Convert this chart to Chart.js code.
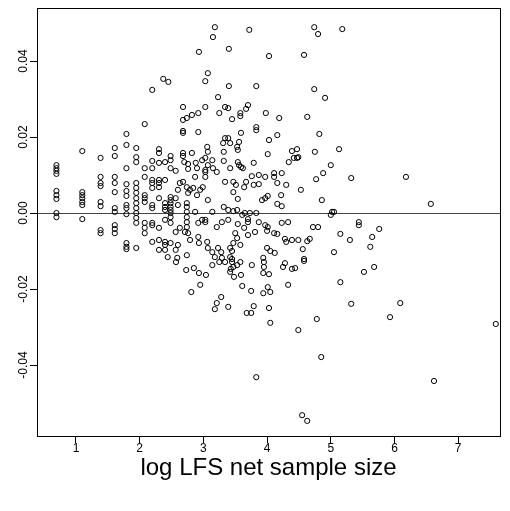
<!DOCTYPE html>
<html>
<head>
<meta charset="utf-8">
<script src="https://cdn.jsdelivr.net/npm/chart.js@4.4.1/dist/chart.umd.min.js"></script>
<style>
  html, body { margin: 0; padding: 0; background: #fff; }
  #wrap { width: 510px; height: 511px; }
</style>
</head>
<body>
<div id="wrap"><canvas id="resid" width="510" height="511"></canvas></div>
<script>
// log of LFS net sample size, one value per area
const logSize = [
  0.693, 0.693, 0.693, 0.693, 0.693, 0.693, 0.693, 0.693, 0.693,
  1.099, 1.099, 1.099, 1.099, 1.099, 1.099, 1.099,
  1.386, 1.386, 1.386, 1.386, 1.386, 1.386, 1.386, 1.386,
  1.609, 1.609, 1.609, 1.609, 1.609, 1.609, 1.609, 1.609, 1.609, 1.609,
  1.792, 1.792, 1.792, 1.792, 1.792, 1.792, 1.792, 1.792, 1.792, 1.792, 1.792, 1.792,
  1.946, 1.946, 1.946, 1.946, 1.946, 1.946, 1.946, 1.946, 1.946, 1.946, 1.946, 1.946, 1.946,
  2.079, 2.079, 2.079, 2.079, 2.079, 2.079, 2.079, 2.079, 2.079,
  2.197, 2.197, 2.197, 2.197, 2.197, 2.197, 2.197, 2.197, 2.197, 2.197, 2.197,
  2.303, 2.303, 2.303, 2.303, 2.303, 2.303, 2.303, 2.303, 2.303, 2.303,
  2.398, 2.398, 2.398, 2.398, 2.398, 2.398, 2.398, 2.398, 2.398,
  2.485, 2.485, 2.485, 2.485, 2.485, 2.485, 2.485, 2.485, 2.485, 2.485, 2.485, 2.485,
  2.565, 2.565, 2.565, 2.565,
  2.37, 2.45, 2.44, 2.57, 2.73, 2.85, 2.93, 2.95, 3.04, 3.14,
  2.60, 2.60, 2.60, 2.59, 2.63, 2.63, 2.68, 2.68, 2.68, 2.68,
  2.68, 2.68, 2.70, 2.68, 2.71, 2.74, 2.74, 2.74, 2.74, 2.74,
  2.74, 2.74, 2.74, 2.74, 2.76, 2.76, 2.76, 2.76, 2.79, 2.79,
  2.82, 2.82, 2.81, 2.84, 2.87, 2.87, 2.88, 2.90, 2.90, 2.92,
  2.92, 2.92, 2.92, 2.93, 2.93, 2.95, 2.98, 2.98, 2.99, 3.03,
  3.03, 3.03, 3.03, 3.03, 3.03, 3.03, 3.03, 3.06, 3.06, 3.07,
  3.07, 3.07, 3.07, 3.07, 3.14, 3.14, 3.14, 3.15, 3.15, 3.18,
  3.18, 3.18, 3.21, 3.21, 3.21, 3.23, 3.23, 3.25, 3.25, 3.28,
  3.28, 3.29, 3.29, 3.31, 3.32, 3.32, 3.32, 3.34, 3.34, 3.34,
  3.34, 3.39, 3.39, 3.39, 3.39, 3.39, 3.40, 3.40, 3.42, 3.42,
  3.42, 3.42, 3.42, 3.43, 3.45, 3.45, 3.45, 3.45, 3.47, 3.47,
  3.47, 3.47, 3.47, 3.48, 3.50, 3.51, 3.53, 3.53, 3.53, 3.53,
  3.54, 3.54, 3.54, 3.54, 3.56, 3.56, 3.58, 3.58, 3.58, 3.58,
  3.59, 3.59, 3.59, 3.61, 3.61, 3.62, 3.64, 3.64, 3.65, 3.67,
  3.67, 3.68, 3.70, 3.70, 3.70, 3.70, 3.72, 3.73, 3.75, 3.75,
  3.76, 3.76, 3.79, 3.79, 3.79, 3.81, 3.83, 3.83, 3.83, 3.83,
  3.83, 3.87, 3.87, 3.87, 3.92, 3.94, 3.94, 3.94, 3.95, 3.95,
  3.97, 3.97, 3.97, 3.98, 4.00, 4.00, 4.01, 4.01, 4.01, 4.01,
  4.03, 4.03, 4.03, 4.03, 4.05, 4.05, 4.05, 4.11, 4.11, 4.11,
  4.12, 4.16, 4.16, 4.16, 4.16, 4.19, 4.22, 4.23, 4.23, 4.23,
  4.25, 4.28, 4.28, 4.33, 4.30, 4.30, 4.33, 4.34, 4.39, 4.39,
  4.39, 4.42, 4.44, 4.47, 4.47, 4.49, 4.49, 4.49, 4.53, 4.55,
  4.56, 4.58, 4.58, 4.58, 4.63, 4.63, 4.63, 4.67, 4.72, 4.74,
  4.74, 4.75, 4.77, 4.78, 4.80, 4.80, 4.82, 4.85, 4.86, 4.88,
  4.91, 5.00, 5.00, 5.02, 5.05, 5.05, 5.13, 5.15, 5.15, 5.18,
  5.30, 5.32, 5.32, 5.44, 5.44, 5.52, 5.62, 5.65, 5.68, 5.76,
  5.93, 6.09, 6.18, 6.57, 6.62, 7.59
];

// residuals, same order as logSize
const residual = [
  0.0126, 0.0118, 0.0111, 0.0103, 0.0058, 0.0047, 0.0037, 0.0000, -0.0011,
  0.0163, 0.0055, 0.0047, 0.0039, 0.0029, 0.0021, -0.0016,
  0.0145, 0.0095, 0.0079, 0.0071, 0.0029, 0.0018, -0.0045, -0.0053,
  0.0171, 0.0150, 0.0095, 0.0079, 0.0055, 0.0013, 0.0003, -0.0032, -0.0042, -0.0053,
  0.0208, 0.0179, 0.0118, 0.0076, 0.0058, 0.0045, 0.0021, 0.0013, -0.0003, -0.0079, -0.0089, -0.0095,
  0.0171, 0.0147, 0.0134, 0.0079, 0.0066, 0.0053, 0.0039, 0.0026, 0.0013, 0.0000, -0.0013, -0.0026, -0.0092,
  0.0234, 0.0118, 0.0095, 0.0047, 0.0039, 0.0029, -0.0026, -0.0039, -0.0053,
  0.0324, 0.0137, 0.0118, 0.0087, 0.0079, 0.0066, 0.0021, 0.0013, -0.0026, -0.0032, -0.0076,
  0.0168, 0.0158, 0.0132, 0.0087, 0.0079, 0.0068, 0.0039, -0.0039, -0.0071, -0.0097,
  0.0134, 0.0087, 0.0026, 0.0016, 0.0008, -0.0018, -0.0076, -0.0084, -0.0097,
  0.0150, 0.0139, 0.0118, 0.0042, 0.0034, 0.0026, 0.0016, 0.0008, 0.0000, -0.0011, -0.0026, -0.0079,
  0.0111, 0.0039, -0.0050, -0.0097,
  0.0353, 0.0345, -0.0116, -0.0129, -0.0150, -0.0145, -0.0158, -0.0189, -0.0163, -0.0137,
  0.0061, 0.0021, -0.0084, -0.0118, 0.0079, -0.0039, 0.0279, 0.0245, 0.0216, 0.0211,
  0.0158, 0.0150, 0.0134, 0.0082, -0.0050, 0.0250, 0.0068, 0.0026, 0.0016, 0.0003,
  -0.0011, -0.0024, -0.0037, -0.0111, 0.0129, 0.0116, 0.0053, -0.0053, 0.0061, -0.0071,
  0.0258, 0.0158, -0.0208, 0.0066, 0.0003, 0.0095, 0.0132, 0.0118, 0.0047, 0.0263,
  0.0213, -0.0063, -0.0026, 0.0424, -0.0079, 0.0061, 0.0139, -0.0018, 0.0068, 0.0279,
  0.0145, 0.0113, 0.0108, 0.0095, 0.0347, -0.0018, -0.0024, 0.0174, -0.0076, 0.0368,
  0.0161, 0.0126, 0.0034, -0.0092, 0.0139, 0.0003, -0.0103, 0.0463, 0.0118, 0.0489,
  -0.0116, -0.0253, 0.0108, -0.0037, -0.0237, 0.0305, -0.0092, 0.0263, -0.0129, -0.0103,
  -0.0221, -0.0024, -0.0118, 0.0184, 0.0161, 0.0137, 0.0016, 0.0279, 0.0197, 0.0082,
  -0.0129, 0.0276, 0.0197, 0.0008, -0.0018, -0.0247, 0.0432, 0.0334, 0.0184, 0.0118,
  -0.0092, -0.0116, -0.0155, -0.0147, 0.0247, -0.0100, -0.0121, -0.0129, 0.0082, 0.0055,
  0.0005, -0.0079, -0.0142, -0.0168, -0.0053, 0.0074, 0.0174, 0.0008, -0.0066, -0.0137,
  0.0166, 0.0134, 0.0037, -0.0029, 0.0187, 0.0126, 0.0263, 0.0255, -0.0084, -0.0129,
  0.0211, 0.0121, -0.0163, -0.0005, -0.0192, 0.0118, 0.0068, -0.0039, 0.0000, 0.0274,
  0.0082, -0.0263, 0.0284, -0.0016, -0.0024, -0.0058, 0.0482, 0.0000, -0.0205, -0.0263,
  0.0097, -0.0137, 0.0132, 0.0074, -0.0245, -0.0050, 0.0226, 0.0218, 0.0334, 0.0000,
  -0.0432, 0.0100, 0.0076, -0.0024, 0.0034, -0.0118, -0.0158, -0.0211, -0.0129, -0.0142,
  0.0095, 0.0039, -0.0032, 0.0263, -0.0047, -0.0092, 0.0155, 0.0045, -0.0037, -0.0195,
  0.0413, 0.0192, -0.0161, -0.0250, -0.0100, -0.0208, -0.0289, 0.0105, 0.0095, -0.0053,
  -0.0105, 0.0205, 0.0079, 0.0024, -0.0055, 0.0250, 0.0047, 0.0105, 0.0018, -0.0026,
  -0.0142, -0.0068, -0.0132, -0.0189, 0.0074, -0.0076, -0.0024, 0.0134, 0.0163, -0.0071,
  -0.0147, 0.0145, -0.0145, 0.0168, 0.0145, 0.0147, -0.0071, -0.0308, 0.0061, -0.0532,
  -0.0095, 0.0416, -0.0121, -0.0126, 0.0253, -0.0074, -0.0547, -0.0068, -0.0037, 0.0489,
  0.0326, 0.0161, 0.0089, -0.0279, 0.0471, -0.0037, 0.0208, -0.0379, 0.0034, 0.0105,
  0.0303, 0.0126, -0.0005, 0.0003, 0.0003, -0.0103, 0.0168, -0.0055, -0.0182, 0.0484,
  -0.0071, 0.0092, -0.0239, -0.0024, -0.0032, -0.0155, -0.0089, -0.0063, -0.0142, -0.0042,
  -0.0274, -0.0237, 0.0095, 0.0024, -0.0442, -0.0292
];

const xTicks = [1, 2, 3, 4, 5, 6, 7];
const yTicks = [-0.04, -0.02, 0, 0.02, 0.04];

const points = logSize.map((x, i) => ({x: x, y: residual[i]}));

// box around the plot region, like R's box()
const boxPlugin = {
  id: 'box',
  afterDraw(chart) {
    const a = chart.chartArea
    const ctx = chart.ctx
    ctx.save()
    ctx.strokeStyle = '#000'
    ctx.lineWidth = 1
    ctx.strokeRect(Math.round(a.left) + 0.5, Math.round(a.top) + 0.5, Math.round(a.right - a.left), Math.round(a.bottom - a.top))
    ctx.restore()
  }
}

const axisFont = {family: '"Liberation Sans", Arial, sans-serif', size: 12}

new Chart(document.getElementById('resid'), {
  type: 'scatter',
  data: {
    datasets: [{
      data: points,
      pointStyle: 'circle',
      pointRadius: 2.6,
      borderWidth: 1,
      borderColor: '#000',
      backgroundColor: 'rgba(0,0,0,0)'
    }]
  },
  options: {
    responsive: false,
    animation: false,
    devicePixelRatio: 1,
    layout: {padding: {top: 8, right: 10, left: 0, bottom: 0}},
    plugins: {legend: {display: false}, tooltip: {enabled: false}},
    scales: {
      x: {
        type: 'linear',
        min: 0.388,
        max: 7.656,
        afterBuildTicks: s => { s.ticks = xTicks.map(v => ({value: v})) },
        afterFit: s => { s.height = 75 },
        grid: {drawOnChartArea: false, tickLength: 7, color: '#000', tickColor: '#000'},
        border: {display: false},
        ticks: {color: '#000', font: axisFont, padding: -2, maxRotation: 0},
        title: {
          display: true,
          text: 'log LFS net sample size',
          color: '#000',
          font: {family: '"Liberation Sans", Arial, sans-serif', size: 24},
          padding: {top: 0, bottom: 28}
        }
      },
      y: {
        type: 'linear',
        min: -0.05868,
        max: 0.05395,
        afterBuildTicks: s => { s.ticks = yTicks.map(v => ({value: v})) },
        afterFit: s => { s.width = 37 },
        grid: {
          tickLength: 7,
          tickColor: '#000',
          color: c => (c.tick && c.tick.value === 0) ? '#444' : 'rgba(0,0,0,0)'
        },
        border: {display: false},
        ticks: {
          color: '#000',
          font: axisFont,
          padding: -7,
          minRotation: 90,
          maxRotation: 90,
          crossAlign: 'center',
          callback: v => v.toFixed(2)
        }
      }
    }
  },
  plugins: [boxPlugin]
});
</script>
</body>
</html>
